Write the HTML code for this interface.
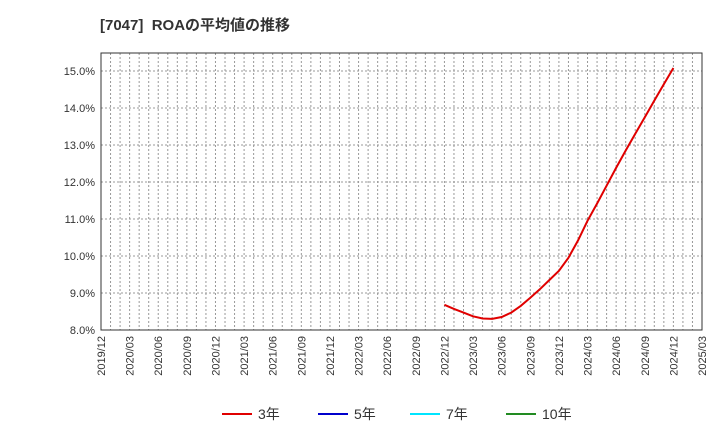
<!DOCTYPE html>
<html><head><meta charset="utf-8"><style>
body{margin:0;background:#fff;font-family:"Liberation Sans","Noto Sans CJK JP",sans-serif;}
</style></head><body>
<svg width="720" height="440" xmlns="http://www.w3.org/2000/svg">
<text x="100" y="30" font-size="15" font-weight="bold" fill="#333" font-family="Liberation Sans, Noto Sans CJK JP, sans-serif" xml:space="preserve">[7047]  ROAの平均値の推移</text>
<g id="grid"></g>
<g id="axes"></g>
<g id="series"></g>
<g id="legend"></g>
</svg>
<script>
const yTicks=[8,9,10,11,12,13,14,15];
const xTickLabels=["2019/12","2020/03","2020/06","2020/09","2020/12","2021/03","2021/06","2021/09","2021/12","2022/03","2022/06","2022/09","2022/12","2023/03","2023/06","2023/09","2023/12","2024/03","2024/06","2024/09","2024/12","2025/03"];
const roa3Start=36; // months after 2019/12 (2022/12)
const roa3=[8.68,8.57,8.47,8.37,8.31,8.30,8.35,8.47,8.65,8.87,9.10,9.35,9.60,9.95,10.42,10.95,11.42,11.90,12.38,12.85,13.30,13.75,14.20,14.64,15.08];
const legendItems=[["3年","#e00000"],["5年","#0000cc"],["7年","#00e5ff"],["10年","#228b22"]];
const L=101,R=702,T=53,B=330,ymin=8,ymax=15.486,months=63;
const xs=m=>L+(R-L)*m/months;
const ys=v=>B-(B-T)*(v-ymin)/(ymax-ymin);
const NS="http://www.w3.org/2000/svg";
function mk(tag,parent,attrs){const e=document.createElementNS(NS,tag);for(const k in attrs)e.setAttribute(k,attrs[k]);parent.appendChild(e);return e;}
const grid=document.getElementById('grid'),axes=document.getElementById('axes'),series=document.getElementById('series'),legend=document.getElementById('legend');
for(let m=1;m<months;m++){const l=mk('line',grid,{x1:xs(m),x2:xs(m),y1:T,y2:B,stroke:'#999','stroke-dasharray':'2,2','stroke-width':1});

}
yTicks.forEach(v=>{if(v>ymin){const l=mk('line',grid,{x1:L,x2:R,y1:ys(v),y2:ys(v),stroke:'#999','stroke-dasharray':'2,2'});

}
const t=mk('text',axes,{x:L-6,y:ys(v)+4,'text-anchor':'end','font-size':11,fill:'#333'});t.textContent=v.toFixed(1)+'%';

});
const fr=mk('rect',axes,{x:L,y:T,width:R-L,height:B-T,fill:'none',stroke:'#333'});


xTickLabels.forEach((s,i)=>{const x=xs(i*3);const t=mk('text',axes,{x:x+4,y:B+6,'text-anchor':'end','font-size':11,fill:'#333',transform:`rotate(-90 ${x+4} ${B+6})`});t.textContent=s;

});
const pts=roa3.map((v,i)=>xs(roa3Start+i).toFixed(1)+','+ys(v).toFixed(1)).join(' ');
const pl=mk('polyline',series,{points:pts,fill:'none',stroke:'#e00000','stroke-width':2});


const lx=[222,318,410,506];
legendItems.forEach((it,i)=>{const g=mk('g',legend,{});


mk('line',g,{x1:lx[i],x2:lx[i]+30,y1:414,y2:414,stroke:it[1],'stroke-width':2});
const t=mk('text',g,{x:lx[i]+36,y:419,'font-size':14,fill:'#333'});t.textContent=it[0];});
</script>
</body></html>
